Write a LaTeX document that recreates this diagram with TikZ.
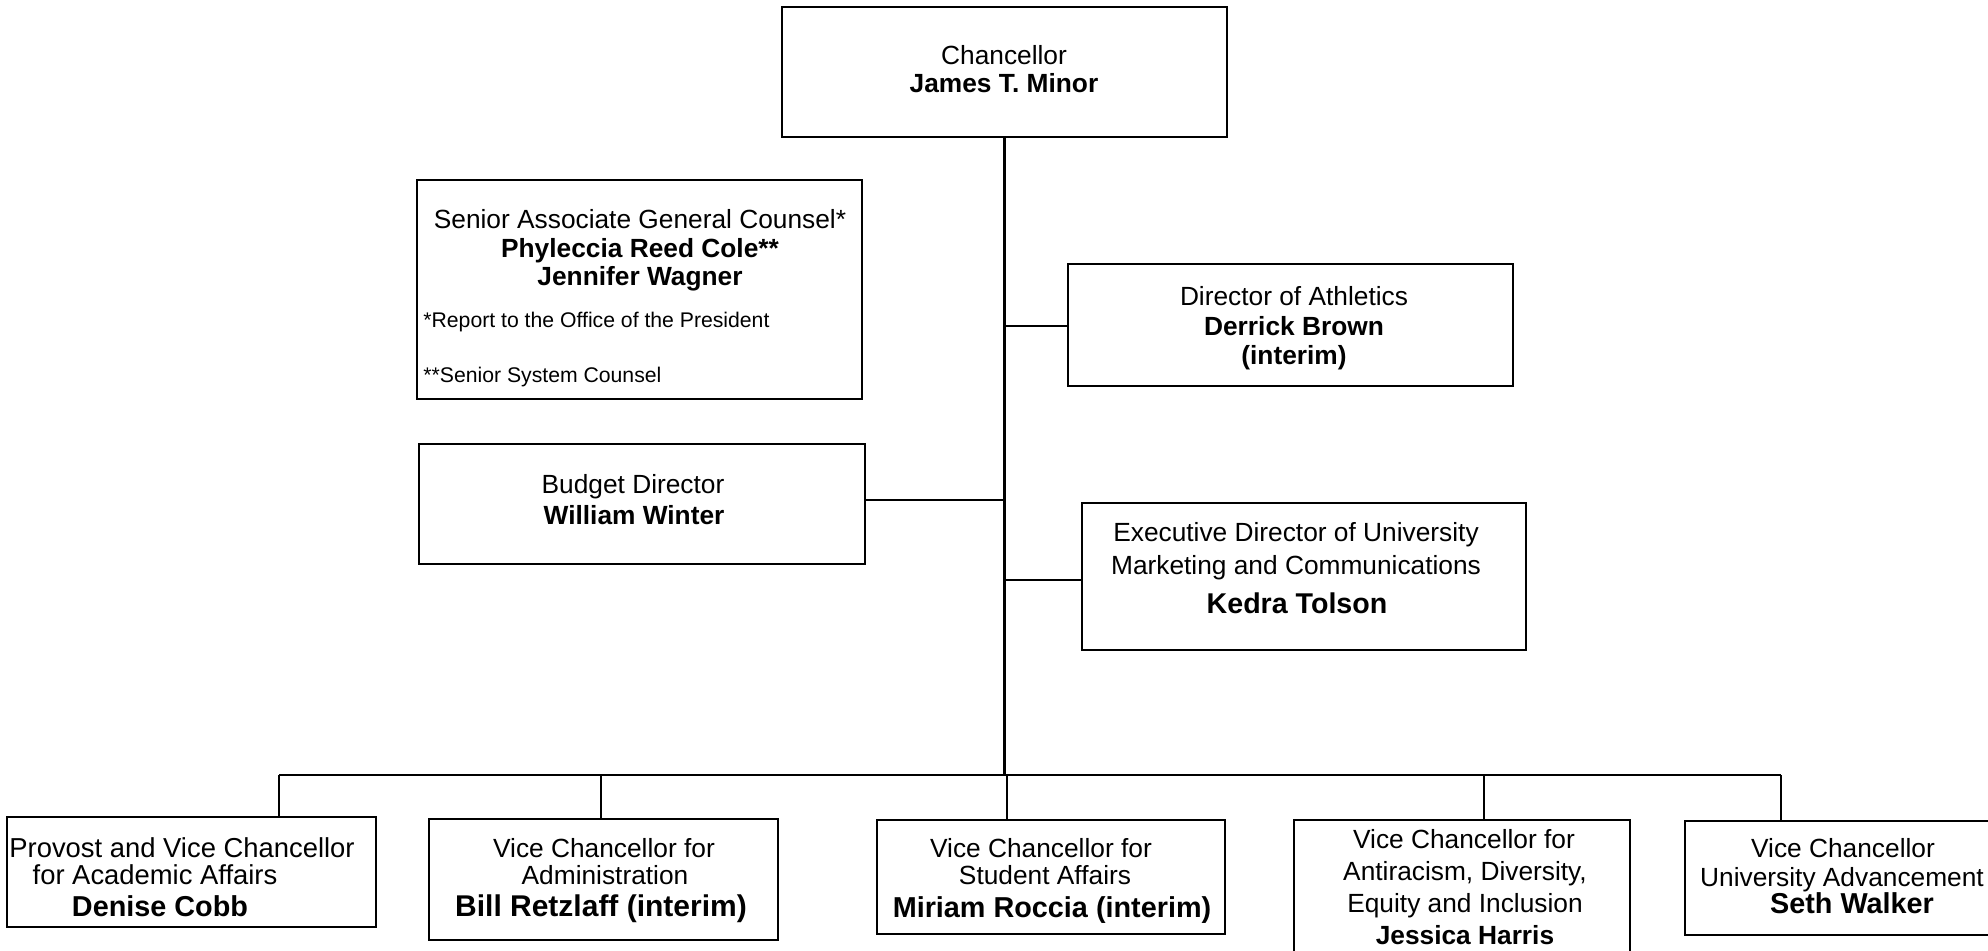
\documentclass[tikz,border=0pt]{standalone}
\usepackage{fontspec}
\setmainfont{Liberation Sans}
\newcommand\fR{\fontsize{13.15pt}{14pt}\selectfont}
\newcommand\fRp{\fontsize{13.7pt}{15pt}\selectfont}
\newcommand\fB{\fontsize{13.15pt}{14pt}\selectfont\bfseries}
\newcommand\fBL{\fontsize{14.4pt}{16pt}\selectfont\bfseries}
\newcommand\fBX{\fontsize{15pt}{16pt}\selectfont\bfseries}
\newcommand\fS{\fontsize{10.6pt}{12pt}\selectfont}
\begin{document}
\begin{tikzpicture}[x=0.5pt,y=-0.5pt,
  box/.style={draw=black, line width=1.1pt, inner sep=0pt, rectangle},
  conn/.style={draw=black, line width=1.2pt},
  lbl/.style={inner sep=0pt, anchor=base, font=\fR},
  lblp/.style={inner sep=0pt, anchor=base, font=\fRp},
  nm/.style={inner sep=0pt, anchor=base, font=\fB},
  nmL/.style={inner sep=0pt, anchor=base, font=\fBL},
  nmX/.style={inner sep=0pt, anchor=base, font=\fBX},
  fnote/.style={inner sep=0pt, anchor=base west, font=\fS}]
\useasboundingbox (0,0) rectangle (1988,950);
\fill[white] (0,0) rectangle (1988,950);
\clip (0,0) rectangle (1988,950);

% boxes
\node[box, minimum width=222.5pt, minimum height=65pt]   (chan)    at (1004.5,72) {};
\node[box, minimum width=222.5pt, minimum height=109.5pt](counsel) at (639.5,289.5) {};
\node[box, minimum width=222.5pt, minimum height=61pt]   (athl)    at (1290.5,325) {};
\node[box, minimum width=223pt,   minimum height=60pt]   (budget)  at (642,504) {};
\node[box, minimum width=222pt,   minimum height=73.5pt] (exec)    at (1304,576.5) {};
\node[box, minimum width=184.5pt, minimum height=55pt]   (prov)    at (191.5,872) {};
\node[box, minimum width=174.5pt, minimum height=60.5pt] (admin)   at (603.5,879.5) {};
\node[box, minimum width=174pt,   minimum height=57pt]   (stud)    at (1051,877) {};
\node[box, minimum width=168pt,   minimum height=75pt]   (div)     at (1462,895) {};
\node[box, minimum width=160pt,   minimum height=57pt]   (adv)     at (1845,878) {};

% texts
\node[lbl] (chanA) at (1004,64) {Chancellor};
\node[nm]  (chanB) at (1004,92) {James T. Minor};

\node[lbl] (counA) at (640,228) {Senior Associate General Counsel*};
\node[nm]  (counB) at (640,257) {Phyleccia Reed Cole**};
\node[nm]  (counC) at (640,285) {Jennifer Wagner};
\node[fnote] (counD) at (423,327) {*Report to the Office of the President};
\node[fnote] (counE) at (423,382) {**Senior System Counsel};

\node[lbl] (athlA) at (1294,305) {Director of Athletics};
\node[nm]  (athlB) at (1294,335) {Derrick Brown};
\node[nm]  (athlC) at (1294,364) {(interim)};

\node[lbl] (budA) at (633,493) {Budget Director};
\node[nm]  (budB) at (634,524) {William Winter};

\node[lbl] (exeA) at (1296,541) {Executive Director of University};
\node[lbl] (exeB) at (1296,574) {Marketing and Communications};
\node[inner sep=0pt, anchor=base, font=\fontsize{14.3pt}{16pt}\selectfont\bfseries] (exeC) at (1297,613) {Kedra Tolson};

\node[lblp] (provA) at (182,857) {Provost and Vice Chancellor};
\node[lblp] (provB) at (155,884) {for Academic Affairs};
\node[nmL]  (provC) at (160,916) {Denise Cobb};

\node[lbl] (admA) at (604,857) {Vice Chancellor for};
\node[lbl] (admB) at (605,884) {Administration};
\node[nmX] (admC) at (601,916) {Bill Retzlaff (interim)};

\node[lbl] (stuA) at (1041,857) {Vice Chancellor for};
\node[lbl] (stuB) at (1045,884) {Student Affairs};
\node[nmL] (stuC) at (1052,917) {Miriam Roccia (interim)};

\node[lbl] (divA) at (1464,848) {Vice Chancellor for};
\node[lbl] (divB) at (1465,880) {Antiracism, Diversity,};
\node[lbl] (divC) at (1465,912) {Equity and Inclusion};
\node[nm]  (divD) at (1465,944) {Jessica Harris};

\node[lbl] (advA) at (1843,857) {Vice Chancellor};
\node[lbl] (advB) at (1842,886) {University Advancement};
\node[nmL] (advC) at (1852,913) {Seth Walker};

% connectors
\coordinate (busL) at (279,775);
\coordinate (busR) at (1781,775);
\coordinate (dAdm) at (601,775);
\coordinate (dStu) at (1007,775);
\coordinate (dDiv) at (1484,775);
\coordinate (jAth) at (1004,326);
\coordinate (jBud) at (1004,500);
\coordinate (jExe) at (1004,580);

\draw[conn] (chan.south) -- (chan.south |- busL);
\draw[conn] (busL) -- (busR);
\draw[conn] (busL) -- (busL |- prov.north);
\draw[conn] (dAdm) -- (dAdm |- admin.north);
\draw[conn] (dStu) -- (dStu |- stud.north);
\draw[conn] (dDiv) -- (dDiv |- div.north);
\draw[conn] (busR) -- (busR |- adv.north);
\draw[conn] (jAth) -- (jAth -| athl.west);
\draw[conn] (jBud) -- (jBud -| budget.east);
\draw[conn] (jExe) -- (jExe -| exec.west);
\end{tikzpicture}
\end{document}
